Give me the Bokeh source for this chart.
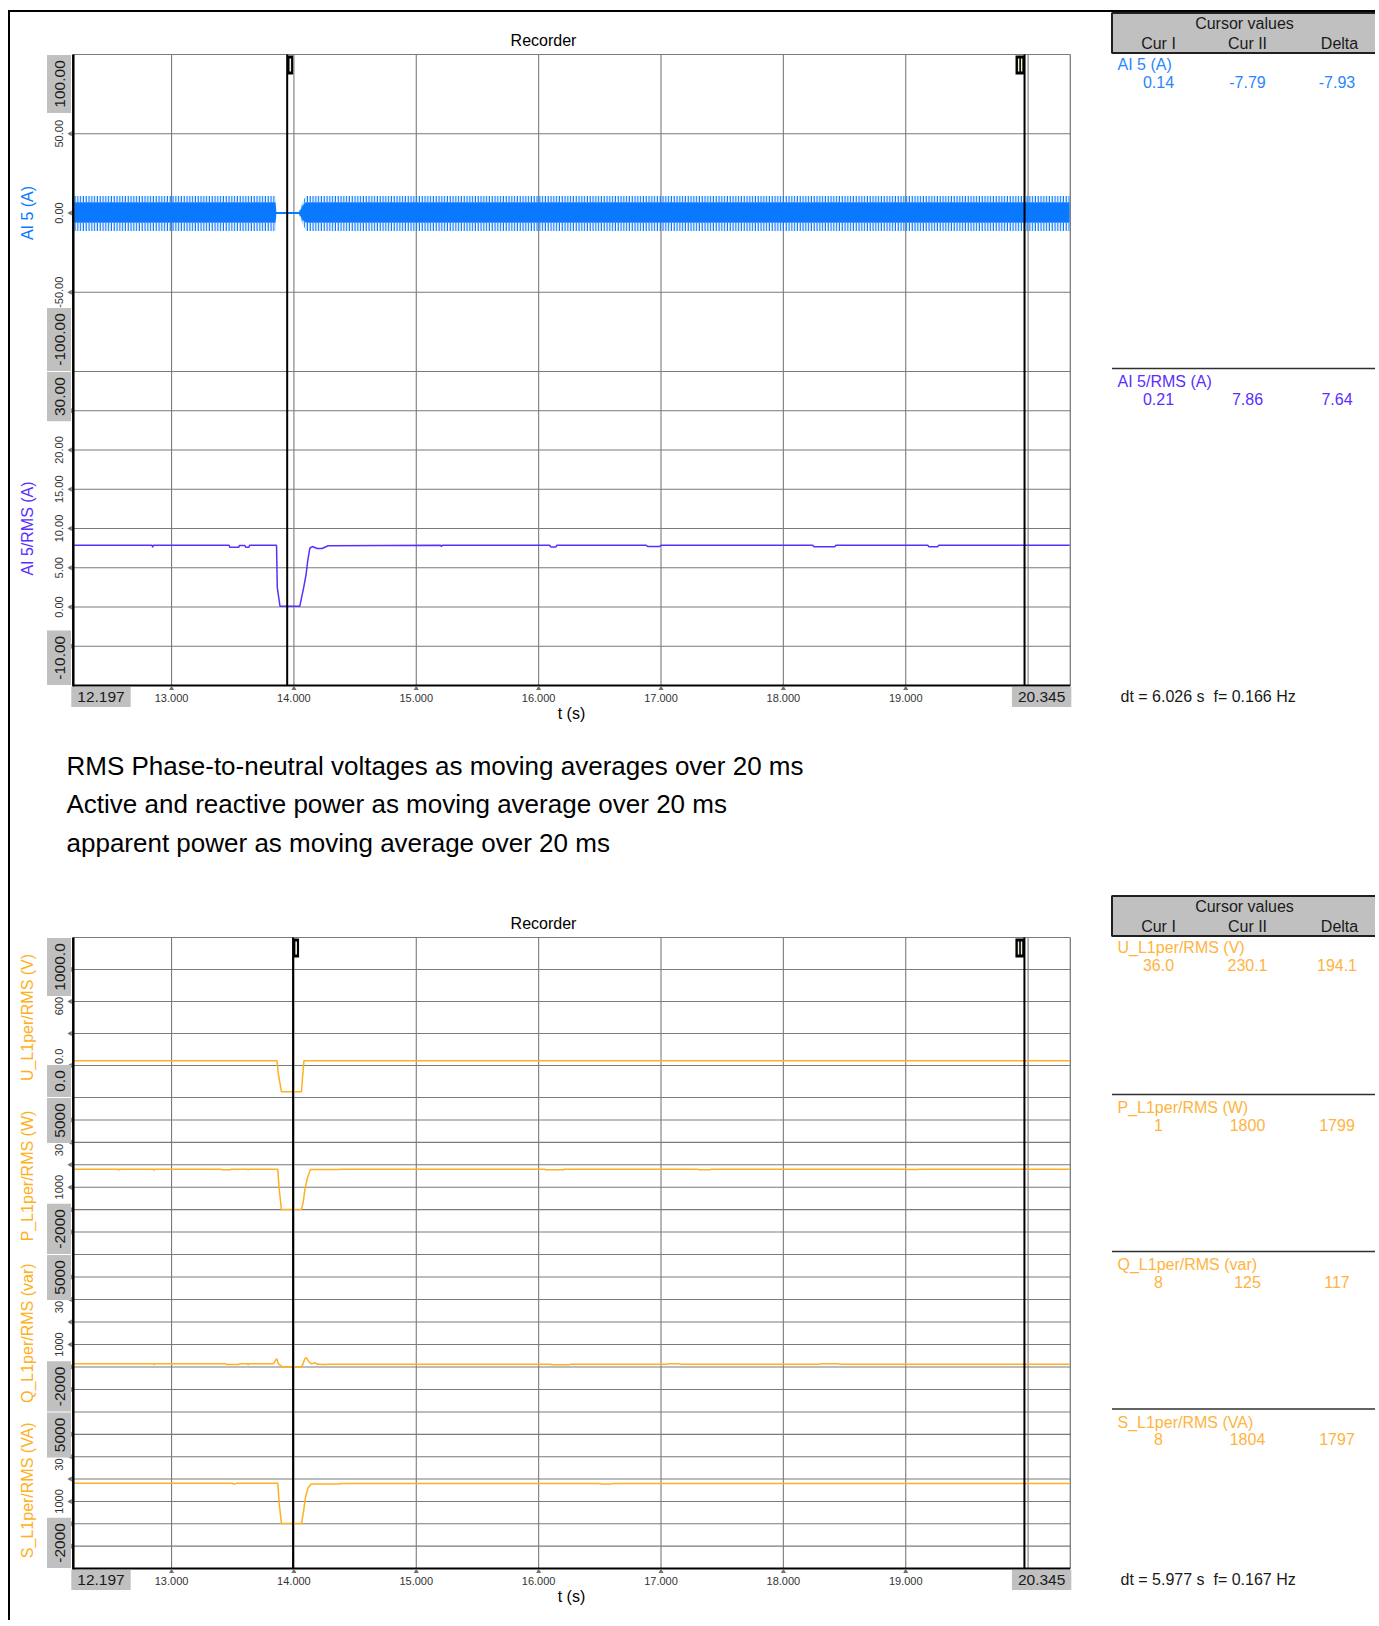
import math
from bokeh.plotting import figure
from bokeh.models import Range1d
from bokeh.core.properties import value
from bokeh.embed import file_html
from bokeh.resources import INLINE

# =========================== DATA ===========================
T_START = 12.197
T_END = 20.345
time_ticks = [13.0, 14.0, 15.0, 16.0, 17.0, 18.0, 19.0, 20.0]
time_tick_text = ["13.000", "14.000", "15.000", "16.000", "17.000", "18.000", "19.000"]
time_end_text = ["12.197", "20.345"]

# AI 5 (A): raw 50 Hz current, shown by its envelope (outer peaks, dense core)
ai5_t = [12.205, 13.850, 13.856, 14.040, 14.055, 14.070, 14.085, 14.100, 20.340]
ai5_peak_hi = [10.7, 10.7, 0.7, 0.7, 3.5, 6.5, 9.0, 10.7, 10.7]
ai5_peak_lo = [-11.3, -11.3, -0.7, -0.7, -3.5, -6.5, -9.0, -11.3, -11.3]
ai5_core_hi = [6.8, 6.8, 0.7, 0.7, 2.2, 4.4, 6.0, 6.8, 6.8]
ai5_core_lo = [-6.2, -6.2, -0.7, -0.7, -2.2, -4.4, -5.5, -6.2, -6.2]

# AI 5/RMS (A)
rms_t = [12.205, 12.840, 12.846, 12.852, 13.470, 13.476, 13.548, 13.554, 13.600, 13.606,
         13.632, 13.638, 13.858, 13.864, 13.886, 14.048, 14.060, 14.080, 14.100, 14.112,
         14.130, 14.150, 14.190, 14.230, 14.280, 15.200, 15.206, 15.212, 16.090, 16.100,
         16.140, 16.150, 16.880, 16.890, 16.990, 17.000, 18.240, 18.250, 18.420, 18.430,
         19.180, 19.190, 19.260, 19.270, 20.340]
rms_v = [7.86, 7.86, 7.62, 7.86, 7.86, 7.60, 7.60, 7.82, 7.82, 7.62,
         7.62, 7.86, 7.86, 2.5, 0.1, 0.1, 1.0, 2.5, 4.2, 5.8,
         7.5, 7.7, 7.45, 7.45, 7.80, 7.86, 7.70, 7.86, 7.86, 7.65,
         7.65, 7.86, 7.86, 7.70, 7.70, 7.86, 7.86, 7.68, 7.68, 7.86,
         7.86, 7.66, 7.66, 7.86, 7.86]

# U_L1per/RMS (V)
u_t = [12.205, 13.862, 13.872, 13.898, 14.062, 14.070, 14.082, 20.340]
u_v = [230.1, 230.1, 150.0, 36.0, 36.0, 120.0, 230.1, 230.1]

# P_L1per/RMS (W)
p_t = [12.205, 12.560, 12.566, 12.572, 12.850, 12.856, 12.862, 13.400, 13.410, 13.480,
       13.490, 13.620, 13.626, 13.632, 13.868, 13.880, 13.898, 14.062, 14.075, 14.090,
       14.110, 14.135, 14.375, 14.385, 16.050, 16.060, 16.200, 16.210, 17.300, 17.310,
       17.400, 17.410, 19.000, 19.010, 19.100, 19.110, 20.340]
p_v = [1800, 1800, 1750, 1800, 1800, 1750, 1800, 1800, 1780, 1780,
       1800, 1800, 1765, 1800, 1800, 900, 1, 1, 300, 900,
       1400, 1790, 1790, 1800, 1800, 1780, 1780, 1800, 1800, 1780,
       1780, 1800, 1800, 1785, 1785, 1800, 1800]

# Q_L1per/RMS (var)
q_t = [12.205, 12.850, 12.856, 12.862, 13.440, 13.450, 13.550, 13.556, 13.620, 13.626,
       13.632, 13.835, 13.850, 13.860, 13.872, 13.905, 14.062, 14.075, 14.090, 14.102,
       14.120, 14.140, 14.155, 14.170, 14.190, 14.230, 14.300, 16.100, 16.110, 16.250,
       16.260, 17.050, 17.060, 17.150, 17.160, 18.300, 18.310, 18.450, 18.460, 20.340]
q_v = [150, 150, 100, 150, 150, 110, 110, 150, 150, 90,
       150, 150, 300, 370, 150, 8, 8, 150, 380, 400,
       260, 140, 160, 190, 130, 115, 125, 125, 100, 100,
       125, 125, 150, 150, 125, 125, 150, 150, 125, 125]

# S_L1per/RMS (VA)
s_t = [12.205, 13.500, 13.510, 13.530, 13.868, 13.880, 13.898, 14.062, 14.080, 14.095,
       14.115, 14.140, 14.375, 14.385, 16.500, 16.510, 16.600, 16.610, 20.340]
s_v = [1810, 1810, 1765, 1810, 1810, 900, 8, 8, 600, 1200,
       1600, 1780, 1780, 1804, 1804, 1785, 1785, 1804, 1804]

# cursor positions (s)
top_cursors = [13.945, 19.971]
bottom_cursors = [13.993, 19.970]

# cursor value tables
cursor_headers = ["Cur I", "Cur II", "Delta"]
top_channels = ["AI 5 (A)", "AI 5/RMS (A)"]
top_cur1 = ["0.14", "0.21"]
top_cur2 = ["-7.79", "7.86"]
top_delta = ["-7.93", "7.64"]
top_dt = "dt = 6.026 s\u00a0 f= 0.166 Hz"

bottom_channels = ["U_L1per/RMS (V)", "P_L1per/RMS (W)", "Q_L1per/RMS (var)", "S_L1per/RMS (VA)"]
bottom_cur1 = ["36.0", "1", "8", "8"]
bottom_cur2 = ["230.1", "1800", "125", "1804"]
bottom_delta = ["194.1", "1799", "117", "1797"]
bottom_dt = "dt = 5.977 s\u00a0 f= 0.167 Hz"

notes = ["RMS Phase-to-neutral voltages as moving averages over 20 ms",
         "Active and reactive power as moving average over 20 ms",
         "apparent power as moving average over 20 ms"]

# y scales: value at panel top, value at panel bottom, grid step
ai5_scale = [100.0, -100.0, 50.0]
ai5_tick_vals = [50.0, 0.0, -50.0]
ai5_tick_text = ["50.00", "0.00", "-50.00"]
ai5_end_text = ["100.00", "-100.00"]

rms_scale = [30.0, -10.0, 5.0]
rms_tick_vals = [20.0, 15.0, 10.0, 5.0, 0.0]
rms_tick_text = ["20.00", "15.00", "10.00", "5.00", "0.00"]
rms_end_text = ["30.00", "-10.00"]

u_scale = [1000.0, 0.0, 200.0]
u_tick_vals = [600.0, 200.0]
u_tick_text = ["600", "0.0"]          # partly hidden behind the end labels
u_end_text = ["1000.0", "0.0"]

pqs_scale = [5000.0, -2000.0, 1000.0]
pqs_tick_vals = [3000.0, 1000.0]
pqs_tick_text = ["30", "1000"]        # "3000" partly hidden behind the end label
pqs_end_text = ["5000", "-2000"]

for a, b in [(ai5_t, ai5_peak_hi), (ai5_t, ai5_core_lo), (rms_t, rms_v), (u_t, u_v),
             (p_t, p_v), (q_t, q_v), (s_t, s_v)]:
    assert len(a) == len(b)

# =========================== STYLE / LAYOUT ===========================
FONT = "Liberation Sans"
GRID = "#7a7a7a"
BOXC = "#c0c0c0"
BLUE = "#0a78ff"
PURPLE = "#5a2eff"
ORANGE = "#ffb020"
ORANGE_T = "#ffb340"

OX, OY = 0, 0
W, H = 1375, 1620

PX_T0, PX_T1 = 72.8, 1069.8
S_T = (PX_T1 - PX_T0) / (T_END - T_START)

CW = {".": 0.278, "-": 0.333, " ": 0.278}


def est_w(s, size):
    return sum(CW.get(c, 0.556) for c in s) * size


p = figure(width=W, height=H, x_range=Range1d(OX, OX + W), y_range=Range1d(OY + H, OY),
           x_axis_type=None, y_axis_type=None, output_backend="svg", toolbar_location=None,
           min_border=0, outline_line_color=None, background_fill_color="white",
           border_fill_color="white")

extra_x = {"t": Range1d(T_START + (OX - PX_T0) / S_T, T_START + (OX + W - PX_T0) / S_T)}
extra_y = {}


def put_text(xs, ys, texts, size, color="black", align="left", baseline="middle",
             angle=0.0, font=FONT, xr="default", yr="default"):
    xs, ys, texts = list(xs), list(ys), list(texts)
    assert len(xs) == len(ys) == len(texts)
    p.text(x=xs, y=ys, text=texts, text_font=value(font),
           text_font_size=value(f"{size}px"), text_color=color, text_align=align,
           text_baseline=baseline, angle=angle, x_range_name=xr, y_range_name=yr)


def add_panel(name, scale, ytop, ybot):
    vtop, vbot, _ = scale
    k = (vbot - vtop) / (ybot - ytop)
    extra_y[name] = Range1d(vtop + (OY + H - ytop) * k, vtop + (OY - ytop) * k)
    return lambda v: ytop + (v - vtop) / k


BOX_X0, BOX_X1, LAB_X = 46.5, 70.5, 58.5
BOX_FS, SMALL_FS = 15.5, 11


def draw_chart(top, bottom, panels, cursors, channels, cur1, cur2, delta, dt_text):
    # title
    put_text([543], [top - 14], ["Recorder"], 16, align="center")
    # vertical grid + right border
    n = len(time_ticks)
    p.segment(x0=time_ticks, x1=time_ticks, y0=[top] * n, y1=[bottom] * n,
              x_range_name="t", line_color=GRID, line_width=1.1)
    p.segment(x0=[T_END], x1=[T_END], y0=[top], y1=[bottom], x_range_name="t",
              line_color=GRID, line_width=1.3)
    # panels
    for pan in panels:
        name, scale, ytop, ybot = pan["name"], pan["scale"], pan["ytop"], pan["ybot"]
        to_px = add_panel(name, scale, ytop, ybot)
        vtop, vbot, step = scale
        nstep = int(round((vtop - vbot) / step))
        gv = [vtop - i * step for i in range(nstep)]
        p.segment(x0=[T_START] * len(gv), x1=[T_END] * len(gv), y0=gv, y1=gv,
                  x_range_name="t", y_range_name=name, line_color=GRID, line_width=1.1)
        tv = gv[1:]
        p.scatter(x=[T_START - 3.0 / S_T] * len(tv), y=tv, marker="triangle", size=5,
                  angle=math.pi / 2, x_range_name="t", y_range_name=name,
                  fill_color="#707070", line_color=None)
        pan["to_px"] = to_px

    # data
    for pan in panels:
        pan["draw"](pan["name"])

    # cursors
    for i, c in enumerate(cursors):
        p.segment(x0=[c], x1=[c], y0=[top], y1=[bottom], x_range_name="t",
                  line_color="black", line_width=2)
        if i == 0:
            p.quad(left=[c], right=[c + 6 / S_T], top=[top + 1], bottom=[top + 20],
                   x_range_name="t", fill_color="black", line_color=None)
            p.quad(left=[c + 2.3 / S_T], right=[c + 3.9 / S_T], top=[top + 4], bottom=[top + 17],
                   x_range_name="t", fill_color="#f4f0dc", line_color=None)
        else:
            p.quad(left=[c - 9 / S_T], right=[c], top=[top + 1], bottom=[top + 20],
                   x_range_name="t", fill_color="black", line_color=None)
            p.quad(left=[c - 6.6 / S_T, c - 3.6 / S_T], right=[c - 5.2 / S_T, c - 2.2 / S_T],
                   top=[top + 4] * 2, bottom=[top + 17] * 2,
                   x_range_name="t", fill_color="#f4f0dc", line_color=None)

    # axis lines
    p.segment(x0=[T_START], x1=[T_START], y0=[top], y1=[bottom + 1], x_range_name="t",
              line_color="black", line_width=2.5)
    p.segment(x0=[T_START], x1=[T_END], y0=[bottom], y1=[bottom], x_range_name="t",
              line_color="black", line_width=2)
    p.scatter(x=time_ticks[:-1], y=[bottom + 3] * (len(time_ticks) - 1), marker="triangle",
              size=5, x_range_name="t", fill_color="#707070", line_color=None)

    # y labels
    for pan in panels:
        name, to_px = pan["name"], pan["to_px"]
        ytop, ybot = pan["ytop"], pan["ybot"]
        e0, e1 = pan["end_text"]
        L0 = est_w(e0, BOX_FS) + 11
        L1 = est_w(e1, BOX_FS) + 11
        b0 = (ytop + 0.5, ytop + L0)
        b1 = (ybot - L1, ybot - 0.5)
        for v, s in zip(pan["tick_vals"], pan["tick_text"]):
            y = to_px(v)
            half = est_w(s, SMALL_FS) / 2
            if y - half < b0[1]:
                put_text([LAB_X], [b0[1] + 1], [s], SMALL_FS, color="#333333", align="right",
                         angle=math.pi / 2)
            elif y + half > b1[0]:
                put_text([LAB_X], [b1[0] - 1], [s], SMALL_FS, color="#333333", align="left",
                         angle=math.pi / 2)
            else:
                put_text([LAB_X], [v], [s], SMALL_FS, color="#333333", align="center",
                         angle=math.pi / 2, yr=name)
        p.quad(left=[BOX_X0] * 2, right=[BOX_X1] * 2, top=[b0[0], b1[0]], bottom=[b0[1], b1[1]],
               fill_color=BOXC, line_color=None)
        put_text([LAB_X + 0.5] * 2, [(b0[0] + b0[1]) / 2, (b1[0] + b1[1]) / 2], [e0, e1],
                 BOX_FS, color="#1a1a1a", align="center", angle=math.pi / 2)
        put_text([27], [(ytop + ybot) / 2], [pan["label"]], 16, color=pan["color"],
                 align="center", angle=math.pi / 2)

    # x labels
    put_text(time_ticks[:len(time_tick_text)], [bottom + 12] * len(time_tick_text),
             time_tick_text, SMALL_FS, color="#333333", align="center", xr="t")
    lw = est_w(time_end_text[0], BOX_FS) + 12
    rw = est_w(time_end_text[1], BOX_FS) + 12
    p.quad(left=[PX_T0 - 2, PX_T1 + 1 - rw], right=[PX_T0 - 2 + lw, PX_T1 + 1],
           top=[bottom + 1.5] * 2, bottom=[bottom + 21.5] * 2, fill_color=BOXC, line_color=None)
    put_text([PX_T0 - 2 + lw / 2, PX_T1 + 1 - rw / 2], [bottom + 11.5] * 2, time_end_text,
             BOX_FS, color="#1a1a1a", align="center")
    put_text([571], [bottom + 28], ["t (s)"], 16, align="center")

    # cursor value panel
    RX0, RX1 = 1111.5, 1385
    p.quad(left=[RX0], right=[RX1], top=[top - 41.5], bottom=[top - 1.5], fill_color=BOXC,
           line_color="#202020", line_width=2)
    put_text([1244], [top - 31], ["Cursor values"], 16, color="#1a1a1a", align="center")
    put_text([1158, 1247, 1339], [top - 11] * 3, cursor_headers, 16,
             color="#1a1a1a", align="center")
    for i, pan in enumerate(panels):
        ptop = pan["ytop"]
        col = pan["tcolor"]
        if i > 0:
            p.segment(x0=[RX0], x1=[RX1], y0=[ptop - 3], y1=[ptop - 3], line_color="#303030",
                      line_width=1.6)
        put_text([1117], [ptop + 10], [channels[i]], 16, color=col)
        put_text([1158, 1247, 1336.5], [ptop + 27] * 3, [cur1[i], cur2[i], delta[i]], 16,
                 color=col, align="center")
    put_text([1120], [bottom + 10.5], [dt_text], 16, color="#1a1a1a")


def draw_ai5(name):
    p.varea(x=ai5_t, y1=ai5_core_hi, y2=ai5_peak_hi, x_range_name="t", y_range_name=name,
            fill_alpha=0.0, hatch_pattern="|", hatch_color=BLUE, hatch_scale=2.8,
            hatch_weight=1.6)
    p.varea(x=ai5_t, y1=ai5_peak_lo, y2=ai5_core_lo, x_range_name="t", y_range_name=name,
            fill_alpha=0.0, hatch_pattern="|", hatch_color=BLUE, hatch_scale=2.8,
            hatch_weight=1.6)
    p.varea(x=ai5_t, y1=ai5_core_lo, y2=ai5_core_hi, x_range_name="t", y_range_name=name,
            fill_color=BLUE)


def line_drawer(xs, ys, color):
    def f(name):
        p.line(x=xs, y=ys, x_range_name="t", y_range_name=name, line_color=color,
               line_width=1.5)
    return f


top_panels = [
    dict(name="ai5", label="AI 5 (A)", color=BLUE, tcolor="#2a86ff", scale=ai5_scale,
         ytop=54, ybot=371, tick_vals=ai5_tick_vals, tick_text=ai5_tick_text,
         end_text=ai5_end_text, draw=draw_ai5),
    dict(name="rms", label="AI 5/RMS (A)", color=PURPLE, tcolor=PURPLE, scale=rms_scale,
         ytop=371, ybot=685, tick_vals=rms_tick_vals, tick_text=rms_tick_text,
         end_text=rms_end_text, draw=line_drawer(rms_t, rms_v, PURPLE)),
]
bottom_panels = [
    dict(name="u", label="U_L1per/RMS (V)", color=ORANGE, tcolor=ORANGE_T, scale=u_scale,
         ytop=937, ybot=1097, tick_vals=u_tick_vals, tick_text=u_tick_text,
         end_text=u_end_text, draw=line_drawer(u_t, u_v, ORANGE)),
    dict(name="pp", label="P_L1per/RMS (W)", color=ORANGE, tcolor=ORANGE_T, scale=pqs_scale,
         ytop=1097, ybot=1254, tick_vals=pqs_tick_vals, tick_text=pqs_tick_text,
         end_text=pqs_end_text, draw=line_drawer(p_t, p_v, ORANGE)),
    dict(name="qq", label="Q_L1per/RMS (var)", color=ORANGE, tcolor=ORANGE_T, scale=pqs_scale,
         ytop=1254, ybot=1411.5, tick_vals=pqs_tick_vals, tick_text=pqs_tick_text,
         end_text=pqs_end_text, draw=line_drawer(q_t, q_v, ORANGE)),
    dict(name="ss", label="S_L1per/RMS (VA)", color=ORANGE, tcolor=ORANGE_T, scale=pqs_scale,
         ytop=1411.5, ybot=1568, tick_vals=pqs_tick_vals, tick_text=pqs_tick_text,
         end_text=pqs_end_text, draw=line_drawer(s_t, s_v, ORANGE)),
]

# outer frame of the page
p.segment(x0=[8.5, 7.5], x1=[8.5, OX + W], y0=[10.5, 10.5], y1=[OY + H, 10.5],
          line_color="black", line_width=2)

draw_chart(54, 685, top_panels, top_cursors, top_channels, top_cur1, top_cur2, top_delta, top_dt)
put_text([66] * 3, [765, 803.5, 842], notes, 26, color="black")
draw_chart(937, 1568, bottom_panels, bottom_cursors, bottom_channels, bottom_cur1, bottom_cur2,
           bottom_delta, bottom_dt)

p.extra_x_ranges = extra_x
p.extra_y_ranges = extra_y

open("out.html", "w").write(file_html(p, INLINE))
